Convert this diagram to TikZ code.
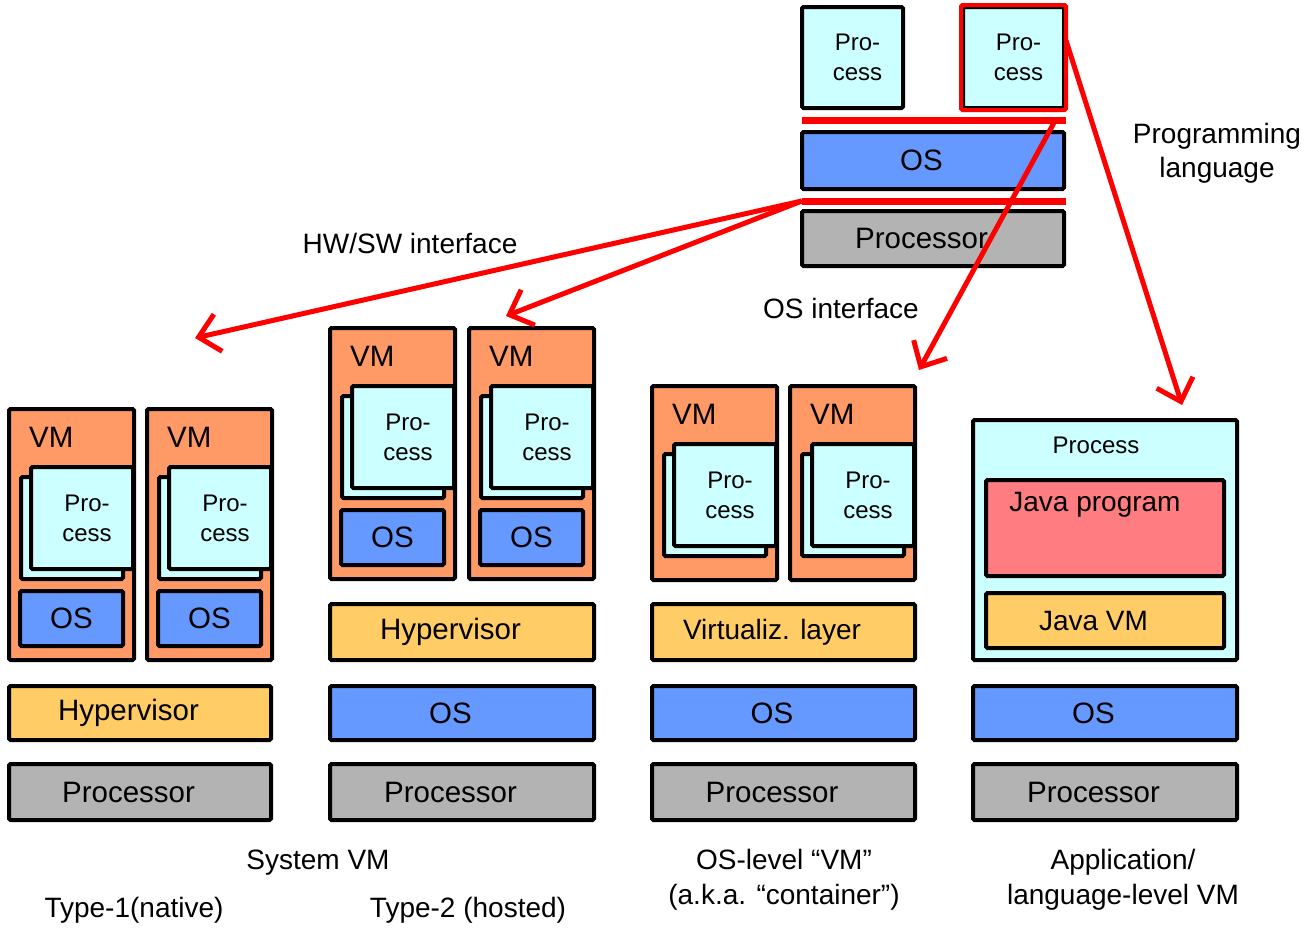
\documentclass[tikz,border=0pt]{standalone}
\usepackage{fontspec}
\setmainfont{Liberation Sans}
\usetikzlibrary{arrows.meta}

\definecolor{proc}{HTML}{CCFFFF}
\definecolor{osc}{HTML}{6699FF}
\definecolor{cpu}{HTML}{B3B3B3}
\definecolor{vmc}{HTML}{FF9966}
\definecolor{hyp}{HTML}{FFCC66}
\definecolor{javap}{HTML}{FF7C80}
\definecolor{ifred}{HTML}{FF0000}

\newcommand\biglbl{\fontsize{28}{35}\selectfont}
\newcommand\laylbl{\fontsize{29.5}{35}\selectfont}
\newcommand\proclbl{\fontsize{24}{30}\selectfont}
% layer text sits a little left of the box centre
\newcommand\lft[1]{#1\hspace*{23pt}}
% two-line process label, nudged right
\newcommand\pcs{\hspace*{10pt}Pro-\\\hspace*{10pt}cess}

\tikzset{
  layer/.style={draw=black, line width=4pt, rounded corners=1.5pt,
                inner sep=0pt, align=center},
  ifbar/.style={fill=ifred, draw=none, inner sep=0pt},
  redarrow/.style={draw=ifred, line width=5pt,
                   -{Straight Barb[length=20pt,width=38pt]}},
  caption/.style={font=\biglbl, align=center, inner sep=0pt},
}

% box given by its outer corners: name, x1, y1, x2, y2, fill, font, text
\newcommand\blk[8]{%
  \pgfmathsetmacro\blkw{(#4)-(#2)-4}%
  \pgfmathsetmacro\blkh{(#5)-(#3)-4}%
  \node[layer, fill=#6, font=#7, minimum width=\blkw pt, minimum height=\blkh pt]
    (#1) at ({((#2)+(#4))/2},{((#3)+(#5))/2}) {#8};}

% a VM frame with its stacked process boxes: name, left, top, height
\newcommand\vmunit[4]{%
  \blk{#1}{#2}{#3}{#2+129}{#3+#4}{vmc}{\biglbl}{}
  \node[font=\laylbl, anchor=west, inner sep=0pt] (#1-lbl) at ({#2+22},{#3+30}) {VM};
  \blk{#1-back}{#2+12}{#3+68}{#2+118}{#3+174}{proc}{\proclbl}{}
  \blk{#1-front}{#2+22}{#3+58}{#2+128}{#3+164}{proc}{\proclbl}{\pcs}}

\begin{document}
\begin{tikzpicture}[x=1pt, y=-1pt]
\useasboundingbox (0,0) rectangle (1304,927);

% ---------- reference stack (top) ----------
\blk{p1}{800}{5}{905}{110}{proc}{\proclbl}{\pcs}
\blk{p2}{961}{5}{1066}{110}{proc}{\proclbl}{\pcs}
\draw[ifred, line width=4pt, rounded corners=1.5pt] (p2.north west) rectangle (p2.south east);
\node[ifbar, minimum width=264pt, minimum height=7pt] (bar1) at (934,120.5) {};
\blk{os0}{800}{130}{1066}{191}{osc}{\laylbl}{\lft{OS}}
\node[ifbar, minimum width=264pt, minimum height=7pt] (bar2) at (934,201) {};
\blk{cpu0}{800}{209}{1066}{268}{cpu}{\laylbl}{\lft{Processor}}

% ---------- Type-1 (native) ----------
\vmunit{vm1}{7}{407}{255}
\blk{vm1-os}{18}{589}{125}{648}{osc}{\laylbl}{OS}
\vmunit{vm2}{145}{407}{255}
\blk{vm2-os}{156}{589}{263}{648}{osc}{\laylbl}{OS}
\blk{hyp1}{7}{684}{273}{742}{hyp}{\laylbl}{\lft{Hypervisor}}
\blk{cpu1}{7}{762}{273}{822}{cpu}{\laylbl}{\lft{Processor}}

% ---------- Type-2 (hosted) ----------
\vmunit{vm3}{328}{326}{255}
\blk{vm3-os}{339}{508}{446}{567}{osc}{\laylbl}{OS}
\vmunit{vm4}{467}{326}{255}
\blk{vm4-os}{478}{508}{585}{567}{osc}{\laylbl}{OS}
\blk{hyp2}{328}{602}{596}{662}{hyp}{\laylbl}{\lft{Hypervisor}}
\blk{os2}{328}{684}{596}{742}{osc}{\laylbl}{\lft{OS}}
\blk{cpu2}{328}{762}{596}{822}{cpu}{\laylbl}{\lft{Processor}}

% ---------- OS-level container ----------
\vmunit{vm5}{650}{384}{198}
\vmunit{vm6}{788}{384}{198}
\blk{virt}{650}{602}{917}{662}{hyp}{\biglbl}{\lft{Virtualiz. layer}}
\blk{os3}{650}{684}{917}{742}{osc}{\laylbl}{\lft{OS}}
\blk{cpu3}{650}{762}{917}{822}{cpu}{\laylbl}{\lft{Processor}}

% ---------- application / language-level VM ----------
\blk{app}{971}{418}{1239}{662}{proc}{\biglbl}{}
\node[font=\proclbl, inner sep=0pt] (applbl) at (1096,445) {Process};
\blk{jprog}{984}{478}{1226}{578}{javap}{\biglbl}{}
\node[font=\biglbl, inner sep=0pt] (jproglbl) at (1095,505) {Java program};
\blk{jvm}{984}{591}{1226}{650}{hyp}{\biglbl}{\lft{Java VM}}
\blk{os4}{971}{684}{1239}{742}{osc}{\laylbl}{\lft{OS}}
\blk{cpu4}{971}{762}{1239}{822}{cpu}{\laylbl}{\lft{Processor}}

% ---------- interface arrows ----------
\coordinate (t1) at (195,338);
\coordinate (t2) at (506,316);
\coordinate (t3) at (919,370);
\coordinate (t4) at (1182,405);
\draw[redarrow] (bar2.west) -- (t1);
\draw[redarrow] (bar2.west) -- (t2);
\draw[redarrow] ([xshift=-11pt]bar1.east) -- (t3);
\draw[redarrow] ([yshift=17pt]p2.east) -- (t4);

\node[caption] (hwsw) at (410,243) {HW/SW interface};
\node[caption] (osif) at (841,308) {OS interface};
\node[caption, font=\fontsize{28}{34}\selectfont] (plang) at (1217,153) {Programming\\language};

% ---------- captions ----------
\node[caption] (sysvm) at (318,863) {System VM};
\node[caption] (type1) at (134,910) {Type-1(native)};
\node[caption] (type2) at (468,910) {Type-2 (hosted)};
\node[caption] (oslvl) at (784,880) {OS-level “VM”\\(a.k.a. “container”)};
\node[caption] (applvl) at (1123,880) {Application/\\language-level VM};
\end{tikzpicture}
\end{document}
